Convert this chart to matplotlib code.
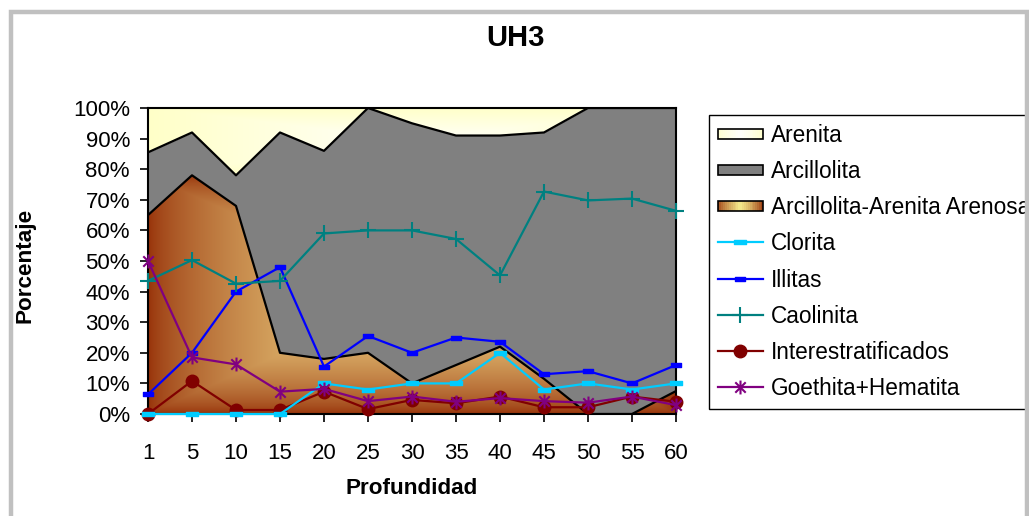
import numpy as np
import matplotlib
matplotlib.use("Agg")
import matplotlib.pyplot as plt
from matplotlib.path import Path
from matplotlib.patches import Rectangle
from matplotlib.legend_handler import HandlerBase

plt.rcParams['font.family'] = ['Liberation Sans', 'DejaVu Sans']

# ---------------- data ----------------
depths = ['1', '5', '10', '15', '20', '25', '30', '35', '40', '45', '50', '55', '60']
arenosa = [65, 78, 68, 20, 18, 20, 10, 16, 22, 11.5, 0, 0, 7.5]          # Arcillolita-Arenita Arenosa
arcillolita = [20.5, 14, 10, 72, 68, 80, 85, 75, 69, 80.5, 100, 100, 92.5]
arenita = [14.5, 8, 22, 8, 14, 0, 5, 9, 9, 8, 0, 0, 0]
clorita = [0, 0, 0, 0, 10, 8, 10, 10, 20, 8, 10, 8, 10]
illitas = [6.4, 20, 40, 48, 15.5, 25.5, 20, 25, 23.6, 13, 14, 10, 16]
caolinita = [43.5, 50.3, 42.6, 43.5, 59, 60, 60, 57.2, 45.3, 72.7, 69.8, 70.4, 66.4]
interestrat = [0, 10.8, 1.3, 1.3, 7.3, 1.6, 4.6, 3.5, 5.7, 2.2, 2.2, 5.7, 4]
goethita = [50, 18.5, 16.2, 7.3, 8.2, 4.2, 5.7, 4, 5.2, 4.2, 3.7, 5.7, 2.9]

W, H = 1029, 516
fig = plt.figure(figsize=(W / 100, H / 100), dpi=100)
fig.patch.set_facecolor('white')
L, R, T, B = 148, 676, 108, 414
ax = fig.add_axes([L / W, 1 - B / H, (R - L) / W, (B - T) / H])

x = np.arange(len(depths))
a1 = np.array(arenosa, float)
a2 = a1 + np.array(arcillolita, float)
a3 = a2 + np.array(arenita, float)

BROWN_EDGE = np.array([150, 48, 8]) / 255
BROWN_CEN = np.array([248, 230, 145]) / 255
YEL_EDGE = np.array([255, 255, 200]) / 255
YEL_CEN = np.array([255, 255, 250]) / 255


def center_gradient(edge, cen, gamma=1.0, n=400):
    xs = np.linspace(0, 1, n)
    ys = np.linspace(0, 1, n)
    XX, YY = np.meshgrid(xs, ys)
    t = np.maximum(np.abs(XX - 0.5), np.abs(YY - 0.5)) * 2
    w = (1 - t) ** gamma
    return edge[None, None, :] * (1 - w[..., None]) + cen[None, None, :] * w[..., None]


# Arenita (top, pale yellow gradient)
poly_top = ax.fill_between(x, a2, a3, color=YEL_EDGE, lw=0, zorder=1)
img = center_gradient(YEL_EDGE, YEL_CEN, gamma=1.0)
im = ax.imshow(img, extent=[0, 12, a2.min(), 100], origin='lower', aspect='auto', zorder=1.1,
               interpolation='bilinear')
im.set_clip_path(poly_top.get_paths()[0], transform=ax.transData)

# Arcillolita (gray)
ax.fill_between(x, a1, a2, color='#808080', lw=0, zorder=1)

# Arcillolita-Arenita Arenosa (brown gradient)
poly_b = ax.fill_between(x, 0, a1, color=BROWN_EDGE, lw=0, zorder=1)
img = center_gradient(BROWN_EDGE, BROWN_CEN, gamma=0.65)
im2 = ax.imshow(img, extent=[0, 12, 0, a1.max()], origin='lower', aspect='auto', zorder=1.2,
                interpolation='bilinear')
im2.set_clip_path(poly_b.get_paths()[0], transform=ax.transData)

# boundary lines
ax.plot(x, a1, color='black', lw=1.6, zorder=2)
ax.plot(x, a2, color='black', lw=1.6, zorder=2)

# markers
rect_marker = Path([(-1, -0.4), (1, -0.4), (1, 0.4), (-1, 0.4), (-1, -0.4)],
                   [Path.MOVETO, Path.LINETO, Path.LINETO, Path.LINETO, Path.CLOSEPOLY])
star_marker = Path([(0, -1), (0, 1), (-0.75, -0.75), (0.75, 0.75), (-0.75, 0.75), (0.75, -0.75)],
                   [Path.MOVETO, Path.LINETO, Path.MOVETO, Path.LINETO, Path.MOVETO, Path.LINETO])

ax.plot(x, clorita, color='#00CCFF', lw=1.6, marker=rect_marker, ms=8.5, mfc='#00CCFF',
        mec='#00CCFF', zorder=6, label='Clorita', clip_on=False)
ax.plot(x, illitas, color='#0000FF', lw=1.6, marker=rect_marker, ms=6.5, mfc='#0000FF',
        mec='#0000FF', zorder=6, label='Illitas', clip_on=False)
ax.plot(x, caolinita, color='#008080', lw=1.6, marker='+', ms=12, mew=1.5, zorder=6,
        label='Caolinita', clip_on=False)
ax.plot(x, interestrat, color='#800000', lw=1.6, marker='o', ms=9, mfc='#800000',
        mec='#800000', zorder=5.8, label='Interestratificados', clip_on=False)
ax.plot(x, goethita, color='#800080', lw=1.6, marker=star_marker, ms=10, mew=1.5,
        mfc='none', mec='#800080', zorder=6.2, label='Goethita+Hematita', clip_on=False)

ax.set_xlim(0, 12)
ax.set_ylim(0, 100)
ax.set_xticks(x)
ax.set_xticklabels(depths)
ax.set_yticks(np.arange(0, 101, 10))
ax.set_yticklabels([f'{v}%' for v in range(0, 101, 10)])
ax.tick_params(axis='both', direction='out', length=6, width=1.2, labelsize=16, colors='black')
ax.tick_params(axis='x', pad=15)
ax.tick_params(axis='y', pad=7)
for s in ax.spines.values():
    s.set_color('black')
    s.set_linewidth(1.5)
    s.set_zorder(5)

fig.text(515 / W, 1 - 38 / H, 'UH3', ha='center', va='center', fontsize=21, fontweight='bold',
         family=['Liberation Sans Narrow', 'Liberation Sans', 'DejaVu Sans'])
fig.text(25 / W, 1 - 265 / H, 'Porcentaje', rotation=90, ha='center', va='center',
         fontsize=16.2, fontweight='bold')
fig.text(412 / W, 1 - 488 / H, 'Profundidad', ha='center', va='center', fontsize=16.2,
         fontweight='bold')


# ---------------- legend ----------------
class GradHandler(HandlerBase):
    def __init__(self, edge, cen, solid=None):
        super().__init__()
        self.edge, self.cen, self.solid = edge, cen, solid

    def create_artists(self, legend, orig_handle, xdescent, ydescent, width, height, fontsize, trans):
        hh = height * 0.62
        y0 = -ydescent + (height - hh) / 2
        arts = []
        if self.solid is not None:
            arts.append(Rectangle((-xdescent, y0), width, hh, facecolor=self.solid,
                                  edgecolor='black', lw=1.2, transform=trans))
            return arts
        n = 24
        for i in range(n):
            c = (i + 0.5) / n
            t = abs(c - 0.5) * 2
            w = (1 - t) ** 0.7
            col = self.edge * (1 - w) + self.cen * w
            arts.append(Rectangle((-xdescent + width * i / n, y0), width / n + 0.3, hh,
                                  facecolor=col, edgecolor='none', lw=0, transform=trans))
        arts.append(Rectangle((-xdescent, y0), width, hh, facecolor='none', edgecolor='black',
                              lw=1.2, transform=trans))
        return arts


h_aren = Rectangle((0, 0), 1, 1)
h_arc = Rectangle((0, 0), 1, 1)
h_brn = Rectangle((0, 0), 1, 1)
line_handles = ax.get_lines()[2:]
handles = [h_aren, h_arc, h_brn] + line_handles
labels = ['Arenita', 'Arcillolita', 'Arcillolita-Arenita Arenosa', 'Clorita', 'Illitas',
          'Caolinita', 'Interestratificados', 'Goethita+Hematita']
leg = ax.legend(handles, labels, loc='upper left', bbox_to_anchor=(709 / W, 1 - 115 / H),
                bbox_transform=fig.transFigure, fontsize=16.3, frameon=True, fancybox=False,
                edgecolor='black', framealpha=1, borderpad=0.38, labelspacing=0.585,
                handlelength=2.0, handletextpad=0.35, numpoints=1, borderaxespad=0,
                handler_map={h_aren: GradHandler(YEL_EDGE, YEL_CEN),
                             h_arc: GradHandler(None, None, solid='#808080'),
                             h_brn: GradHandler(BROWN_EDGE, np.array([245, 235, 140]) / 255)})
leg.get_frame().set_linewidth(1.0)
leg.set_zorder(10)

# outer chart-area border (gray)
fig.patches.append(Rectangle((11 / W, -0.2), (1027 - 11) / W, (H - 12) / H + 0.2,
                             transform=fig.transFigure, facecolor='none', edgecolor='#C0C0C0',
                             lw=3.2, zorder=20))

fig.savefig('out.png', dpi=100)
